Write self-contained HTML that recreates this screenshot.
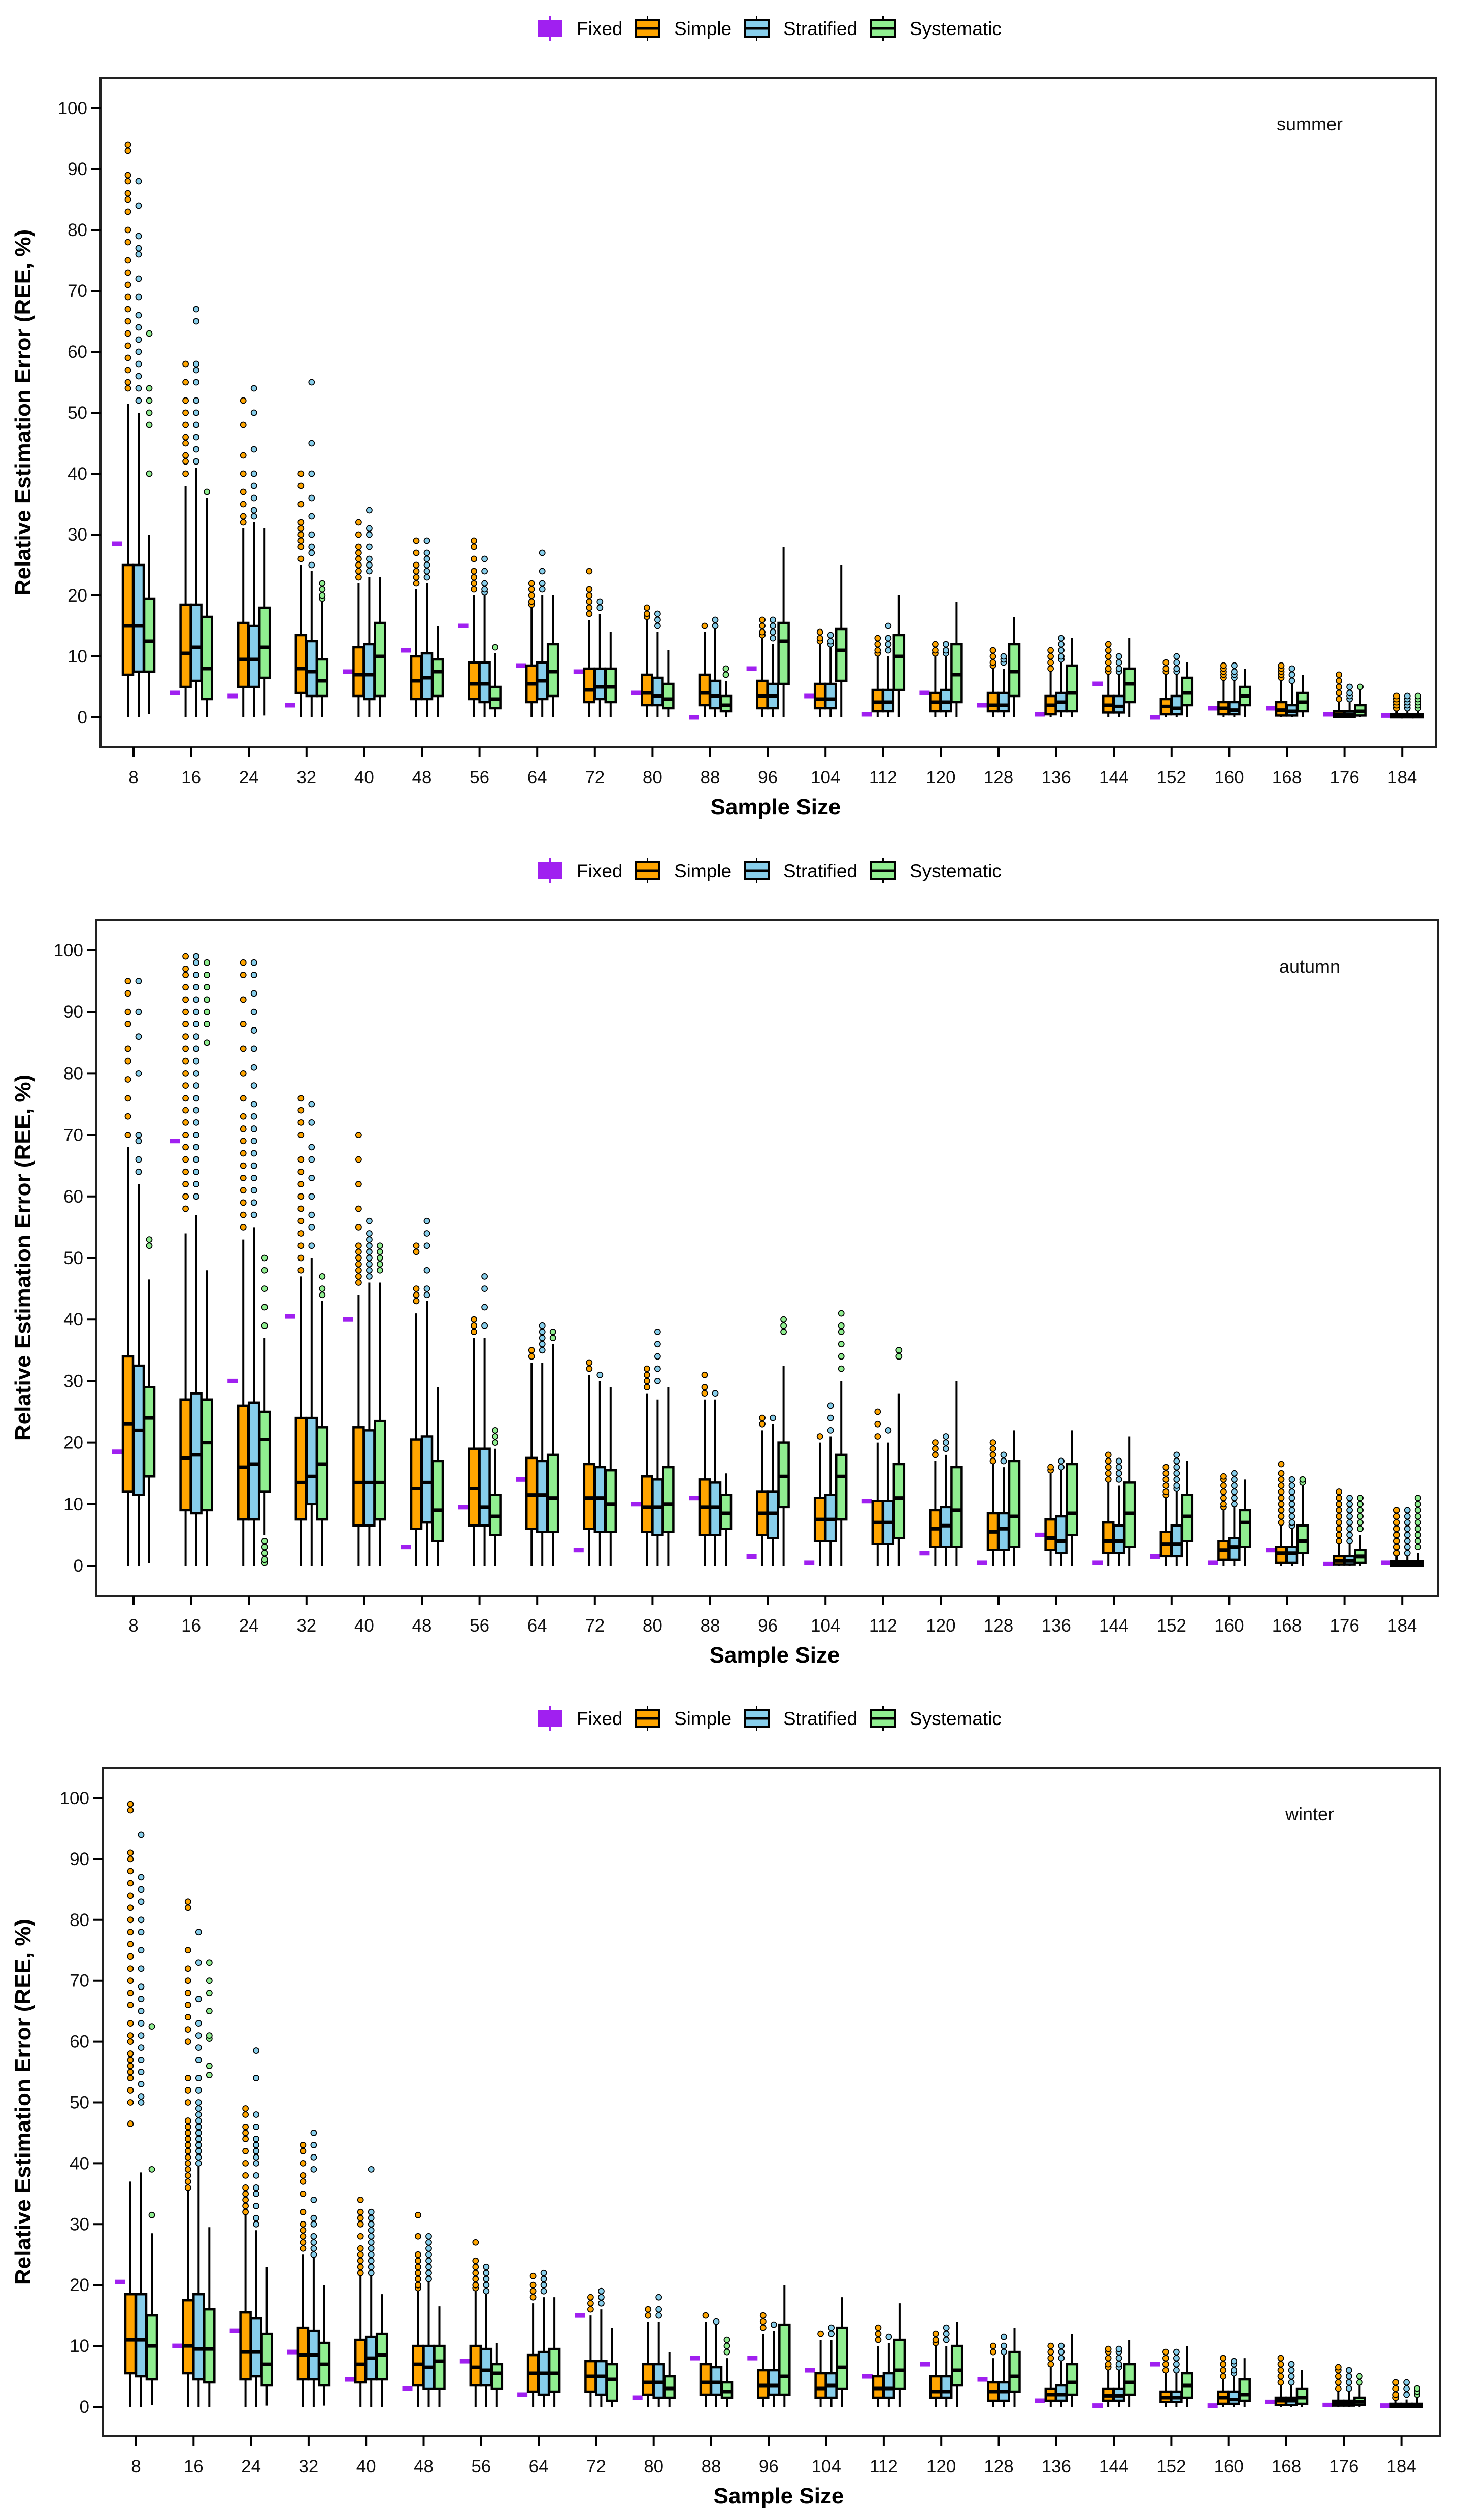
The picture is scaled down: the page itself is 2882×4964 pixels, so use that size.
<!DOCTYPE html>
<html><head><meta charset="utf-8"><style>
html,body{margin:0;padding:0;background:#fff}
svg{display:block}
text{font-family:"Liberation Sans",Arial,sans-serif}
</style></head>
<body>
<svg id="chart" xmlns="http://www.w3.org/2000/svg" width="2882" height="4964" viewBox="0 0 2882 4964"></svg>
<script>
const categories=[8,16,24,32,40,48,56,64,72,80,88,96,104,112,120,128,136,144,152,160,168,176,184];
const yTicks=[0,10,20,30,40,50,60,70,80,90,100];
const seasons=["summer","autumn","winter"];
const methods=["Simple","Stratified","Systematic"];

// ---- summer ----
const fixed1=[28.5,4,3.5,2,7.5,11,15,8.5,7.5,4,0,8,3.5,0.5,4,2,0.5,5.5,0,1.5,1.5,0.5,0.3];
const simple1=[[0,7,15,25,51.5],[0,5,10.5,18.5,38],[0,5,9.5,15.5,31],[0,4,8,13.5,25],[0,3.5,7,11.5,22],[0,3,6,10,21],[0,3,5.5,9,20],[0,2.5,5.5,8.5,18],[0,2.5,4.5,8,16],[0,2,4,7,16],[0,2,4,7,14],[0,1.5,3.5,6,13],[0,1.5,3,5.5,12],[0,1,2.5,4.5,10],[0,1,2.5,4,10],[0,1,2,4,8],[0,0.5,2,3.5,7.5],[0,0.8,2,3.5,7],[0,0.5,1.8,3,7],[0,0.5,1.5,2.5,6],[0,0.3,1.2,2.5,6],[0,0.1,0.5,1,2.5],[0,0,0.2,0.5,1]];
const strat1=[[0,7.5,15,25,50],[0,6,11.5,18.5,41],[0,5,9.5,15,32],[0,3.5,7.5,12.5,24],[0,3,7,12,23],[0,3,6.5,10.5,22],[0,2.5,5.5,9,20],[0,3,6,9,20],[0,3,5,8,17],[0,2,3.5,6.5,14],[0,1.5,3.5,6,14.5],[0,1.5,3.5,5.5,12],[0,1.5,3,5.5,13],[0,1,2.5,4.5,10],[0,1,2.5,4.5,10],[0,1,2,4,8],[0,1,2.5,4,9],[0,0.8,1.8,3.5,7],[0,0.5,1.5,3.5,7],[0,0.5,1.2,2.5,6],[0,0.3,1,2,5.5],[0,0.1,0.5,1,2.5],[0,0,0.2,0.5,1]];
const syst1=[[0.5,7.5,12.5,19.5,30],[0,3,8,16.5,36],[0.3,6.5,11.5,18,31],[0,3.5,6,9.5,19],[0,3.5,10,15.5,23],[0,3.5,7.5,9.5,15],[0,1.5,3,5,10.5],[0,3.5,7.5,12,20],[0,2.5,5,8,14],[0,1.5,3,5.5,11],[0,1,2,3.5,6],[0,5.5,12.5,15.5,28],[0,6,11,14.5,25],[0,4.5,10,13.5,20],[0,2.5,7,12,19],[0,3.5,7.5,12,16.5],[0,1,4,8.5,13],[0,2.5,5.5,8,13],[0,2,4,6.5,9],[0,2,3.5,5,8],[0,1,2.5,4,7],[0,0.3,1,2,4.5],[0,0,0.2,0.5,1]];
const outSimple1=[[54,55,57,59,61,63,65,67,69,71,73,75,78,80,83,85,86,88,89,93,94],[40,42,43,45,46,48,50,52,55,58],[32,33,35,37,40,43,48,52],[26,28,29,30,31,32,35,38,40],[23,24,25,26,27,28,30,32],[22,23,24,25,27,29],[21,22,23,24,26,28,29],[18.5,19,20,21,22],[17,18,19,20,21,24],[16.5,17,18],[15],[13.5,14,15,16],[12.5,13,14],[10.5,11,12,13],[10.5,11,12],[8.5,9,10,11],[8,9,10,11],[7.5,8,9,10,11,12],[7.5,8,9],[6.5,7,7.5,8,8.5],[6.5,7,7.5,8,8.5],[3,4,5,6,7],[1.5,2,2.5,3,3.5]];
const outStrat1=[[52,54,56,58,60,62,64,66,69,72,76,77,79,84,88],[42,44,46,48,50,52,55,57,58,65,67],[33,34,36,38,40,44,50,54],[25,27,28,30,33,36,40,45,55],[24,25,26,28,30,31,34],[23,24,25,26,27,29],[20.5,21,22,24,26],[21,22,24,27],[18,19],[15,16,17],[15,16],[13,14,15,16],[12,12.5,13.5],[11,12,13,15],[10.5,11,12],[9,9.5,10],[9.5,10,11,12,13],[7.5,8,9,10],[7.5,8,9,10],[6.5,7,7.5,8.5],[6,7,8],[3,3.5,4,5],[1.5,2,2.5,3,3.5]];
const outSyst1=[[40,48,50,52,54,63],[37],[],[19.5,20,21,22],[],[],[11.5],[],[],[],[7,8],[],[],[],[],[],[],[],[],[],[],[5],[1.5,2,2.5,3,3.5]];

// ---- autumn ----
const fixed2=[18.5,69,30,40.5,40,3,9.5,14,2.5,10,11,1.5,0.5,10.5,2,0.5,5,0.5,1.5,0.5,2.5,0.3,0.5];
const simple2=[[0,12,23,34,68],[0,9,17.5,27,54],[0,7.5,16,26,53],[0,7.5,13.5,24,47],[0,6.5,13.5,22.5,44],[0,6,12.5,20.5,41],[0,6.5,12.5,19,37],[0,6,11.5,17.5,33],[0,6,11,16.5,31],[0,5.5,9.5,14.5,28],[0,5,9.5,14,27],[0,5,8.5,12,22],[0,4,7.5,11,20],[0,3.5,7,10.5,20],[0,3,6,9,17],[0,2.5,5.5,8.5,16.5],[0,2.5,4.5,7.5,15],[0,2,4,7,13.5],[0,1.5,3.5,5.5,11],[0,1,2.5,4,9],[0,0.5,2,3,6.5],[0,0.2,0.8,1.5,3.5],[0,0,0.3,0.8,1.8]];
const strat2=[[0,11.5,22,32.5,62],[0,8.5,18,28,57],[0,7.5,16.5,26.5,55],[0,10,14.5,24,50],[0,6.5,13.5,22,46],[0,7,13.5,21,43],[0,6.5,9.5,19,37],[0,5.5,11.5,17,33],[0,5.5,11,16,30],[0,5,9.5,14,27],[0,5,9.5,13.5,27],[0,4.5,8.5,12,23],[0,4,7.5,11.5,21],[0,3.5,7,10.5,20],[0,3,6.5,9.5,18],[0,2.5,6,8.5,16],[0,2,4,8,16],[0,2,4,6.5,13],[0,1.5,3.5,6.5,12],[0,1,3,4.5,10],[0,0.5,2,3,6],[0,0.2,0.8,1.5,3.5],[0,0,0.3,0.8,1.8]];
const syst2=[[0.5,14.5,24,29,46.5],[0,9,20,27,48],[5,12,20.5,25,37],[0,7.5,16.5,22.5,43],[0,7.5,13.5,23.5,46],[0,4,9,17,29],[0,5,8,11.5,19],[0,5.5,11,18,36],[0,5.5,10,15.5,29],[0,5.5,10,16,29],[0,6,8.5,11.5,15],[0,9.5,14.5,20,32.5],[0,7.5,14.5,18,30],[0,4.5,11,16.5,28],[0,3,9,16,30],[0,3,8,17,22],[0,5,8.5,16.5,22],[0,3,8.5,13.5,21],[0,4,8,11.5,17],[0,3,7,9,14],[0,2,4,6.5,13],[0,0.5,1.5,2.5,5],[0,0,0.3,0.8,2]];
const outSimple2=[[70,73,76,79,82,84,88,90,93,95],[58,60,62,64,66,68,70,72,74,76,78,80,82,84,86,88,90,92,94,96,97,99],[55,57,59,61,63,65,67,69,71,73,76,80,84,88,92,96,98],[48,50,52,54,56,58,60,62,64,66,70,72,74,76],[46,47,48,49,50,51,52,55,58,62,66,70],[43,44,45,51,52],[38,39,40],[34,35],[32,33],[29,30,31,32],[28,29,31],[23,24],[21],[21,23,25],[18,19,20],[17,18,19,20],[15.5,16],[14,15,16,17,18],[11.5,12,13,14,15,16],[9.5,10,11,12,13,14,14.5],[7,8,9,10,11,12,13,14,15,16.5],[4,5,6,7,8,9,10,11,12],[2,3,4,5,6,7,8,9]];
const outStrat2=[[64,66,69,70,80,86,90,95],[60,62,64,66,68,70,72,74,76,78,80,82,84,86,88,90,92,94,96,98,99],[57,59,61,63,65,67,69,71,73,75,78,81,84,87,90,93,96,98],[52,55,57,60,63,66,68,72,75],[47,48,49,50,51,52,53,54,56],[44,45,48,52,54,56],[39,42,45,47],[35,36,37,38,39],[31],[30,32,34,36,38],[28],[24],[22,24,26],[22],[19,20,21],[17,18],[16,17],[14,15,16,17],[12.5,13,14,15,16,17,18],[10,11,12,13,14,15],[6.5,7,8,9,10,11,12,13,14],[4,5,6,7,8,9,10,11],[2,3,4,5,6,7,8,9]];
const outSyst2=[[52,53],[85,88,90,92,94,96,98],[0.5,1,2,3,4,39,42,45,48,50],[44,45,47],[48,49,50,51,52],[],[20,21,22],[37,38],[],[],[],[38,39,40],[32,34,36,38,39,41],[34,35],[],[],[],[],[],[],[13.5,14],[6,7,8,9,10,11],[3,4,5,6,7,8,9,10,11]];

// ---- winter ----
const fixed3=[20.5,10,12.5,9,4.5,3,7.5,2,15,1.5,8,8,6,5,7,4.5,1,0.2,7,0.2,0.8,0.3,0.2];
const simple3=[[0,5.5,11,18.5,37],[0,5.5,10,17.5,35.5],[0,4.5,9,15.5,32],[0,4.5,8.5,13,25],[0,4,7,11,22],[0,3.5,7,10,19],[0,3.5,6.5,10,19],[0,2.5,5.5,8.5,17],[0,2.5,5,7.5,15],[0,2,4,7,14],[0,2,4,7,14],[0,1.5,3.5,6,12],[0,1.5,3,5.5,11],[0,1.5,3,5,10],[0,1.5,2.5,5,10],[0,1,2.5,4,8],[0,1,2,3,6.5],[0,1,1.8,3,6],[0,0.8,1.5,2.5,5.5],[0,0.5,1.5,2.5,4.5],[0,0.3,1,1.5,3.5],[0,0.2,0.5,1,2.5],[0,0,0.2,0.5,1.2]];
const strat3=[[0,5,11,18.5,38.5],[0,4.5,9.5,18.5,39.5],[0,5,9,14.5,29],[0,4.5,8.5,12.5,25],[0,4.5,8,11.5,22],[0,3,6.5,10,20.5],[0,3.5,6,9.5,18.5],[0,2,5.5,9,18],[0,2,5,7.5,16],[0,1.5,4,7,14],[0,2,4,6.5,13.5],[0,2,3.5,6,12.5],[0,1.5,3.5,5.5,11],[0,1.5,3,5.5,10.5],[0,1.5,2.5,5,10],[0,1,2.5,4,8.5],[0,1,2,3.5,7.5],[0,1,1.8,3,6],[0,0.8,1.5,2.5,5.5],[0,0.5,1.2,2.5,5],[0,0.3,1,1.5,3.5],[0,0.2,0.5,1,2.5],[0,0,0.2,0.5,1.2]];
const syst3=[[0.3,4.5,10,15,28.5],[0,4,9.5,16,29.5],[0.2,3.5,7,12,23],[0.2,3.5,7,10.5,20],[0,4.5,8.5,12,18.5],[0,3,7.5,10,16.5],[0,3,5.5,7,10.5],[0,2.5,5.5,9.5,18],[0,1,4.5,7,13],[0,1.5,3,5,9],[0,1.5,2.5,4,8],[0,2,5,13.5,20],[0,3,6.5,13,18],[0,3,6,11,17],[0,3.5,6,10,14],[0,2.5,5,9,13],[0,2,4,7,12],[0,2,4,7,11],[0,1.5,3.5,5.5,10],[0,1,2,4.5,8],[0,0.5,1.5,3,6],[0,0.3,0.8,1.5,3.5],[0,0,0.2,0.5,1.5]];
const outSimple3=[[46.5,50,52,54,55,56,57,58,60,61,63,66,68,70,72,74,76,78,80,82,84,86,88,90,91,98,99],[36,37,38,39,40,41,42,43,44,45,46,47,50,52,54,60,62,64,66,68,70,72,75,82,83],[32,33,34,35,36,38,40,42,44,45,46,48,49],[26,27,28,29,30,32,35,37,38,40,42,43],[22,23,24,25,26,28,30,31,32,34],[19.5,20,21,22,23,24,25,28,31.5],[19.5,20,21,22,23,24,27],[18,19,20,21.5],[16,17,18],[15,16],[15],[13,14,15],[12],[11,12,13],[10.5,11,12],[9,10],[7,8,9,10],[6.5,7,8,9,9.5],[6,7,8,9],[5,6,7,8],[4,5,6,7,8],[3,4,5,6,6.5],[1.5,2,3,4]];
const outStrat3=[[50,51,53,55,57,59,61,63,65,67,69,72,75,78,80,83,85,87,94],[40,41,42,43,44,45,46,47,48,49,50,52,54,57,59,61,63,67,73,78],[30,31,33,35,36,38,40,41,42,43,44,46,48,54,58.5],[25,26,27,28,30,31,34,39,41,43,45],[22,23,24,25,26,27,28,29,30,31,32,39],[21,22,23,24,25,26,27,28],[19,20,21,22,23],[19,20,21,22],[17,18,19],[15,16,18],[14],[13.5],[12,13],[11.5],[11,12,13],[9,10,11.5],[8,9,10],[6.5,7,8,9,9.5],[6,7,8,9],[5.5,6,7,7.5],[4,5,6,7],[3,4,5,6],[2,3,4]];
const outSyst3=[[31.5,39,62.5],[54.5,56,60.5,61,65,68,70,73],[],[],[],[],[],[],[],[],[9,10,11],[],[],[],[],[],[],[],[],[],[],[4,5],[2,2.5,3]];

const panels=[
 {season:0,left:198,right:2828,top:153,bottom:1472,y0:1413,ppu:12.0,x0:263,dx:113.6,legendY:56,fixed:fixed1,box:[simple1,strat1,syst1],out:[outSimple1,outStrat1,outSyst1]},
 {season:1,left:190,right:2832,top:1812,bottom:3143,y0:3084,ppu:12.12,x0:263,dx:113.6,legendY:1715,fixed:fixed2,box:[simple2,strat2,syst2],out:[outSimple2,outStrat2,outSyst2]},
 {season:2,left:202,right:2836,top:3482,bottom:4799,y0:4741,ppu:11.99,x0:268,dx:113.3,legendY:3385,fixed:fixed3,box:[simple3,strat3,syst3],out:[outSimple3,outStrat3,outSyst3]}
];
const colors=["#FFA500","#87CEEB","#90EE90"];
const purple="#A020F0";
const NS="http://www.w3.org/2000/svg";
const svg=document.getElementById('chart');
function mk(tag,attrs,parent){const e=document.createElementNS(NS,tag);for(const k in attrs)e.setAttribute(k,attrs[k]);(parent||svg).appendChild(e);return e;}

panels.forEach((p,pi)=>{
  const g=mk('g',{});
  
  
  const yS=v=>p.y0-v*p.ppu;
  const xS=i=>p.x0+i*p.dx;
  // legend
  const lg=mk('g',{},g);
  
  
  const ly=p.legendY;
  const fx=mk('rect',{x:1060,y:ly-17,width:47,height:34,fill:purple},lg);
  
  
  mk('line',{x1:1083.5,y1:ly-24,x2:1083.5,y2:ly+24,stroke:purple,'stroke-width':3},lg);
  const names=["Fixed","Simple","Stratified","Systematic"];
  const sx=[1060,1252,1467,1716];
  names.forEach((n,k)=>{
    if(k>0){
      const x=sx[k];
      mk('line',{x1:x+23.5,y1:ly-24,x2:x+23.5,y2:ly+24,stroke:'#000','stroke-width':3},lg);
      const r=mk('rect',{x:x,y:ly-17,width:47,height:34,fill:colors[k-1],stroke:'#000','stroke-width':4},lg);
      
      
      mk('line',{x1:x,y1:ly,x2:x+47,y2:ly,stroke:'#000','stroke-width':5},lg);
    }
    const t=mk('text',{x:sx[k]+76,y:ly+13,'font-size':37,fill:'#000'},lg);
    t.textContent=n;
    
    
  });
  // frame
  const fr=mk('rect',{x:p.left,y:p.top,width:p.right-p.left,height:p.bottom-p.top,fill:'none',stroke:'#222','stroke-width':4},g);
  
  
  // y ticks
  yTicks.forEach(v=>{
    mk('line',{x1:p.left-18,y1:yS(v),x2:p.left,y2:yS(v),stroke:'#000','stroke-width':4},g);
    const t=mk('text',{x:p.left-26,y:yS(v)+12,'font-size':35,'text-anchor':'end',fill:'#111'},g);
    t.textContent=v;
    
    
  });
  // x ticks
  categories.forEach((c,i)=>{
    mk('line',{x1:xS(i),y1:p.bottom,x2:xS(i),y2:p.bottom+19,stroke:'#000','stroke-width':4},g);
    const t=mk('text',{x:xS(i),y:p.bottom+71,'font-size':35,'text-anchor':'middle',fill:'#111'},g);
    t.textContent=c;
    
    
  });
  const xt=mk('text',{x:(p.left+p.right)/2+15,y:p.bottom+132,'font-size':44,'font-weight':'bold','text-anchor':'middle',fill:'#000'},g);
  xt.textContent='Sample Size';
  
  
  const ymid=(p.top+p.bottom)/2;
  const yt=mk('text',{x:0,y:0,'font-size':44,'font-weight':'bold','text-anchor':'middle',fill:'#000',transform:`translate(60,${ymid}) rotate(-90)`},g);
  yt.textContent='Relative Estimation Error (REE, %)';
  
  
  const st=mk('text',{x:2580,y:p.top+104,'font-size':36,'text-anchor':'middle',fill:'#111'},g);
  st.textContent=seasons[p.season];
  
  
  // marks
  const offs=[-11,10,31];
  categories.forEach((c,i)=>{
    const cx=xS(i);
    const fm=mk('rect',{x:cx-32-10,y:yS(p.fixed[i])-4.5,width:20,height:9,fill:purple},g);
    
    
    for(let m=0;m<3;m++){
      const b=p.box[m][i];const bx=cx+offs[m];
      const w=mk('line',{x1:bx,y1:yS(b[0]),x2:bx,y2:yS(b[4]),stroke:'#000','stroke-width':4},g);
      
      
      const r=mk('rect',{x:bx-10,y:yS(b[3]),width:20,height:Math.max(1,yS(b[1])-yS(b[3])),fill:colors[m],stroke:'#000','stroke-width':4.5},g);
      
      
      const md=mk('line',{x1:bx-11,y1:yS(b[2]),x2:bx+11,y2:yS(b[2]),stroke:'#000','stroke-width':7},g);
      
      
      p.out[m][i].forEach(v=>{
        const o=mk('circle',{cx:bx,cy:yS(v),r:5.5,fill:colors[m],stroke:'#000','stroke-width':1.8},g);
        
        
      });
    }
  });
});
</script>
</body></html>
